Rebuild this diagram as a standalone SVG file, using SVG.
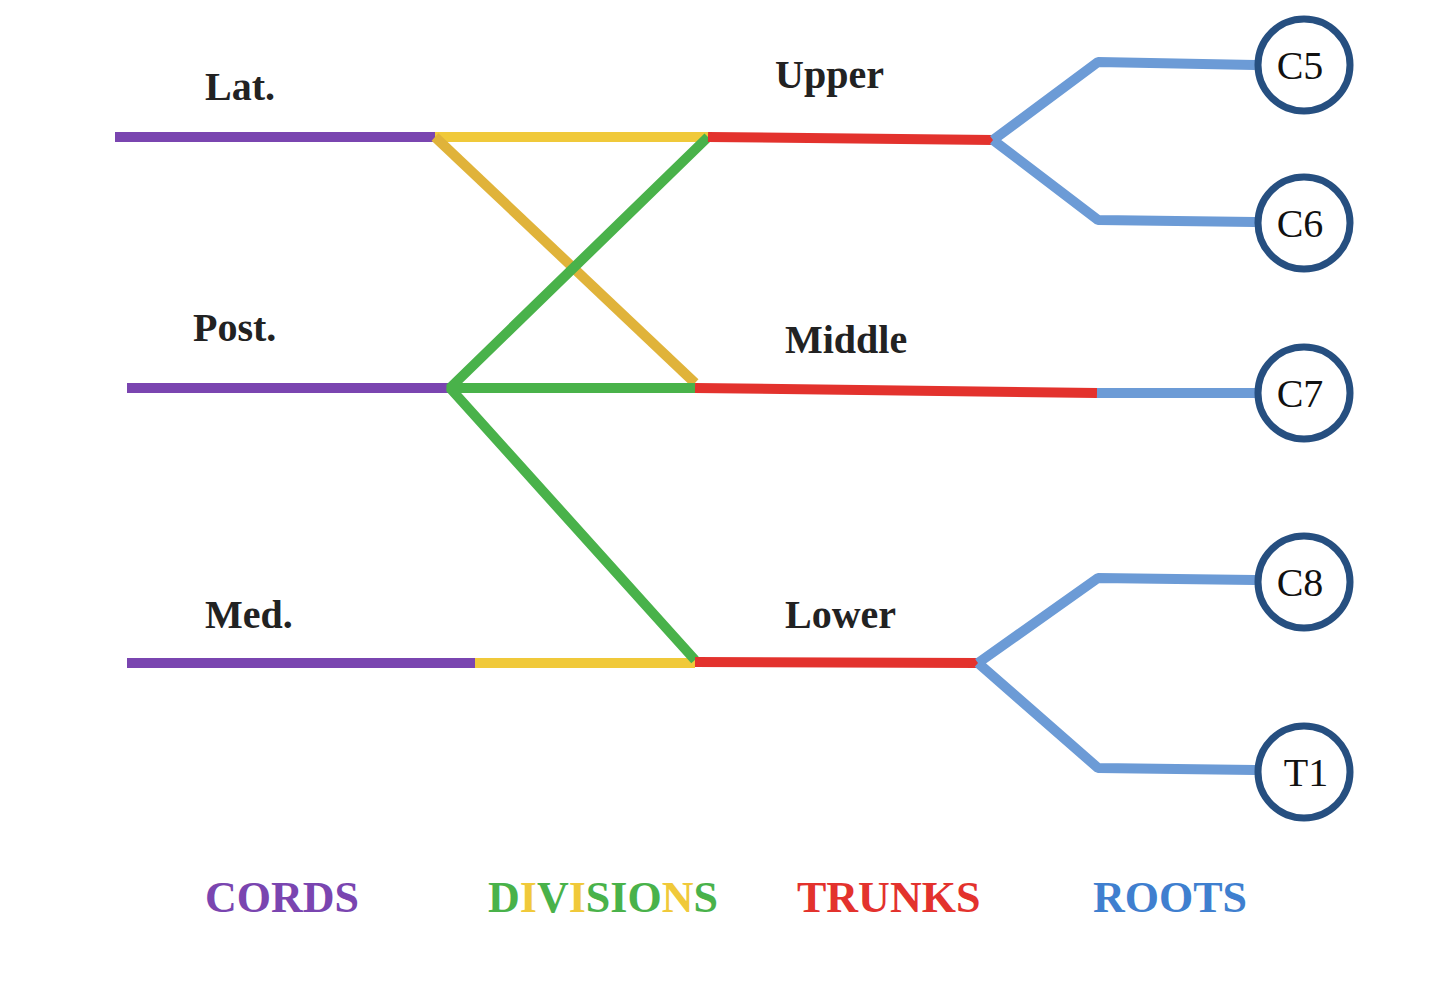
<svg xmlns="http://www.w3.org/2000/svg" width="1440" height="996" viewBox="0 0 1440 996">
<style>
.l{fill:none;stroke-width:10;stroke-linejoin:bevel}
.p{stroke:#7a45b0}.y{stroke:#f0c93a}.g{stroke:#49b24a}.r{stroke:#e3322d}.b{stroke:#6c9bd6}
.t{font-family:"Liberation Serif",serif;font-weight:bold;font-size:40px;fill:#222}
.h{font-family:"Liberation Serif",serif;font-weight:bold;font-size:44px}
circle{fill:#fff;stroke:#264f80;stroke-width:7}
.c{font-family:"Liberation Serif",serif;font-size:40px;fill:#111;text-anchor:middle}
</style>
<rect width="1440" height="996" fill="#fff"/>
<g id="connectors">
<path class="l p" d="M115,137H435M127,388H450M127,663H475"/>
<path class="l y" d="M475,663H695M435,137H708"/>
<path class="l" stroke="#e0b33a" d="M435,137L695,383"/>
<path class="l g" d="M708,137L450,388L695,660M450,388H695"/>
<path class="l r" d="M708,137L993,140M695,388L1097,393M695,662L978,663"/>
<path class="l b" d="M993,140L1098,62L1255,65M993,140L1098,220L1255,222M1097,393H1255M978,663L1098,578L1255,580M978,663L1098,768L1255,770"/>
</g>
<g id="C5"><circle cx="1304" cy="65" r="46"/><text class="c" x="1300" y="79">C5</text></g>
<g id="C6"><circle cx="1304" cy="223" r="46"/><text class="c" x="1300" y="237">C6</text></g>
<g id="C7"><circle cx="1304" cy="393" r="46"/><text class="c" x="1300" y="407">C7</text></g>
<g id="C8"><circle cx="1304" cy="582" r="46"/><text class="c" x="1300" y="596">C8</text></g>
<g id="T1"><circle cx="1304" cy="772" r="46"/><text class="c" x="1306" y="786">T1</text></g>
<g id="labels">
<text class="t" x="205" y="100">Lat.</text>
<text class="t" x="775" y="88">Upper</text>
<text class="t" x="193" y="341">Post.</text>
<text class="t" x="785" y="353">Middle</text>
<text class="t" x="205" y="628">Med.</text>
<text class="t" x="785" y="628">Lower</text>
<text class="h" x="205" y="912" fill="#7a45b0">CORDS</text>
<text class="h" x="488" y="912" fill="#49b24a">D<tspan fill="#f0c93a">I</tspan>V<tspan fill="#f0c93a">I</tspan>SIO<tspan fill="#f0c93a">N</tspan>S</text>
<text class="h" x="797" y="912" fill="#e3322d">TRUNKS</text>
<text class="h" x="1093" y="912" fill="#3f7fcf">ROOTS</text>
</g>
</svg>
